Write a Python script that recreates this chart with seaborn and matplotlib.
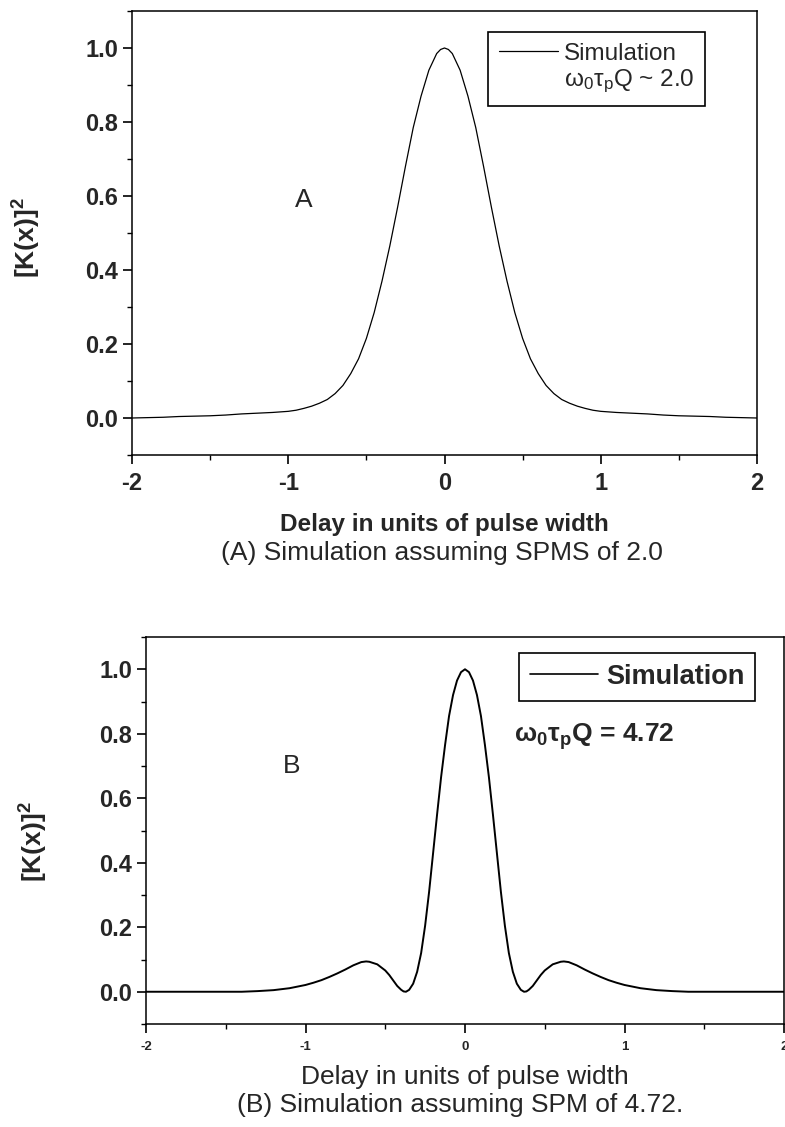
import matplotlib
matplotlib.use("Agg")
import matplotlib.pyplot as plt
import seaborn as sns
import pandas as pd
from matplotlib.lines import Line2D
from matplotlib.ticker import MultipleLocator

# ---------------- data ----------------
# Panel A: SPMS ~ 2.0
delay_a = [-2.0, -1.9, -1.8, -1.7, -1.6, -1.5, -1.4, -1.3, -1.2, -1.1, -1.0,
           -0.95, -0.9, -0.85, -0.8, -0.75, -0.7, -0.65, -0.6, -0.55, -0.5,
           -0.45, -0.4, -0.35, -0.3, -0.25, -0.2, -0.15, -0.1, -0.05, -0.025, 0.0,
           0.025, 0.05, 0.1, 0.15, 0.2, 0.25, 0.3, 0.35, 0.4, 0.45, 0.5,
           0.55, 0.6, 0.65, 0.7, 0.75, 0.8, 0.85, 0.9, 0.95, 1.0,
           1.1, 1.2, 1.3, 1.4, 1.5, 1.6, 1.7, 1.8, 1.9, 2.0]
k2_a = [0.000, 0.001, 0.002, 0.004, 0.005, 0.006, 0.008, 0.011, 0.013, 0.015, 0.018,
        0.021, 0.026, 0.032, 0.040, 0.050, 0.066, 0.088, 0.120, 0.160, 0.215,
        0.285, 0.370, 0.465, 0.570, 0.680, 0.785, 0.870, 0.940, 0.985, 0.996, 1.000,
        0.996, 0.985, 0.940, 0.870, 0.785, 0.680, 0.570, 0.465, 0.370, 0.285, 0.215,
        0.160, 0.120, 0.088, 0.066, 0.050, 0.040, 0.032, 0.026, 0.021, 0.018,
        0.015, 0.013, 0.011, 0.008, 0.006, 0.005, 0.004, 0.002, 0.001, 0.000]

# Panel B: SPM = 4.72
delay_b = [-2.0, -1.8, -1.6, -1.4, -1.3, -1.2, -1.1, -1.0, -0.95, -0.9, -0.85,
           -0.8, -0.75, -0.7, -0.65, -0.62, -0.6, -0.55, -0.5, -0.475, -0.45, -0.425,
           -0.4, -0.385, -0.37, -0.35, -0.325, -0.3, -0.275, -0.25, -0.225, -0.2,
           -0.175, -0.15, -0.125, -0.1, -0.075, -0.05, -0.025, 0.0,
           0.025, 0.05, 0.075, 0.1, 0.125, 0.15, 0.175, 0.2, 0.225, 0.25,
           0.275, 0.3, 0.325, 0.35, 0.37, 0.385, 0.4, 0.425, 0.45, 0.475,
           0.5, 0.55, 0.6, 0.62, 0.65, 0.7, 0.75, 0.8, 0.85,
           0.9, 0.95, 1.0, 1.1, 1.2, 1.3, 1.4, 1.6, 1.8, 2.0]
k2_b = [0.000, 0.000, 0.000, 0.000, 0.002, 0.005, 0.011, 0.021, 0.028, 0.036, 0.046,
        0.057, 0.069, 0.082, 0.092, 0.094, 0.093, 0.085, 0.066, 0.052, 0.035, 0.018,
        0.006, 0.001, 0.000, 0.006, 0.025, 0.062, 0.120, 0.205, 0.310, 0.430,
        0.550, 0.665, 0.765, 0.855, 0.920, 0.965, 0.991, 1.000,
        0.991, 0.965, 0.920, 0.855, 0.765, 0.665, 0.550, 0.430, 0.310, 0.205,
        0.120, 0.062, 0.025, 0.006, 0.000, 0.001, 0.006, 0.018, 0.035, 0.052,
        0.066, 0.085, 0.093, 0.094, 0.092, 0.082, 0.069, 0.057, 0.046,
        0.036, 0.028, 0.021, 0.011, 0.005, 0.002, 0.000, 0.000, 0.000, 0.000]

x_ticks = [-2, -1, 0, 1, 2]
y_ticks = [0.0, 0.2, 0.4, 0.6, 0.8, 1.0]

# ---------------- style ----------------
sns.set_style("ticks")
plt.rcParams["font.family"] = ["Liberation Sans", "DejaVu Sans"]
plt.rcParams["mathtext.fontset"] = "custom"
plt.rcParams["mathtext.rm"] = "Liberation Sans"
plt.rcParams["mathtext.it"] = "Liberation Sans:italic"
plt.rcParams["mathtext.bf"] = "Liberation Sans:bold"

W, H = 785, 1127
fig = plt.figure(figsize=(W / 100, H / 100), dpi=100)


def px_axes(l, t, r, b):
    return fig.add_axes([l / W, 1 - b / H, (r - l) / W, (b - t) / H])


ax_a = px_axes(132, 11, 757, 455)
ax_b = px_axes(146, 637, 784, 1024)

df_a = pd.DataFrame({"delay": delay_a, "k2": k2_a})
df_b = pd.DataFrame({"delay": delay_b, "k2": k2_b})

sns.lineplot(data=df_a, x="delay", y="k2", ax=ax_a, color="black",
             linewidth=0.9, sort=False)
sns.lineplot(data=df_b, x="delay", y="k2", ax=ax_b, color="black",
             linewidth=1.4, sort=False)

for ax in (ax_a, ax_b):
    ax.set_xlim(-2, 2)
    ax.set_ylim(-0.1, 1.1)
    ax.set_xticks(x_ticks)
    ax.set_yticks(y_ticks)
    ax.xaxis.set_minor_locator(MultipleLocator(0.5))
    ax.yaxis.set_minor_locator(MultipleLocator(0.1))
    ax.tick_params(which="major", direction="out", length=6.5, width=1.2,
                   color="black")
    ax.tick_params(which="minor", direction="out", length=3.5, width=1.0,
                   color="black")
    for s in ax.spines.values():
        s.set_visible(True)
        s.set_color("black")
        s.set_linewidth(1.1)
    ax.set_ylabel(r"[K(x)]$^\mathbf{2}$", fontsize=19, fontweight="bold")

# tick labels
ax_a.set_xticklabels([str(v) for v in x_ticks], fontsize=17, fontweight="bold")
ax_a.set_yticklabels([f"{v:.1f}" for v in y_ticks], fontsize=17, fontweight="bold")
ax_b.set_xticklabels([str(v) for v in x_ticks], fontsize=9.5, fontweight="bold")
ax_b.set_yticklabels([f"{v:.1f}" for v in y_ticks], fontsize=17, fontweight="bold")
ax_a.tick_params(axis="x", pad=6)
ax_b.tick_params(axis="x", pad=6)

ax_a.yaxis.set_label_coords((43 - 132) / 625, 0.49)
ax_b.yaxis.set_label_coords((50 - 146) / 638, 0.47)

# x labels
ax_a.set_xlabel("Delay in units of pulse width", fontsize=17.5,
                fontweight="bold", va="center")
ax_a.xaxis.set_label_coords(0.5, (455 - 524) / 444)
ax_b.set_xlabel("Delay in units of pulse width", fontsize=19, va="center")
ax_b.xaxis.set_label_coords(0.5, (1024 - 1077) / 387)

# captions
fig.text(442 / W, 1 - 553 / H, "(A) Simulation assuming SPMS of 2.0",
         fontsize=19, ha="center", va="center")
fig.text(460 / W, 1 - 1105 / H, "(B) Simulation assuming SPM of 4.72.",
         fontsize=19, ha="center", va="center")

# panel letters
ax_a.text(-0.90, 0.59, "A", fontsize=19, ha="center", va="center")
ax_b.text(-1.09, 0.70, "B", fontsize=19, ha="center", va="center")

# legends
h_line = Line2D([], [], color="black", linewidth=0.9)
h_none = Line2D([], [], color="none")
leg_a = ax_a.legend([h_line, h_none],
                    ["Simulation", r"$\mathregular{ω_0τ_p}$Q ~ 2.0"],
                    loc="upper right", bbox_to_anchor=(0.917, 0.953),
                    borderaxespad=0, fancybox=False, framealpha=1,
                    edgecolor="black", fontsize=17.5, handlelength=2.4,
                    handletextpad=0.25, labelspacing=0.12, borderpad=0.45)
leg_a.get_frame().set_linewidth(1.2)

h_line_b = Line2D([], [], color="black", linewidth=1.2)
leg_b = ax_b.legend([h_line_b], ["Simulation"],
                    loc="upper right", bbox_to_anchor=(0.9545, 0.9587),
                    borderaxespad=0, fancybox=False, framealpha=1,
                    edgecolor="black", handlelength=2.5,
                    handletextpad=0.3, borderpad=0.4,
                    prop={"weight": "bold", "size": 19.5})
leg_b.get_frame().set_linewidth(1.2)

ax_b.text(0.306, 0.79, r"$\mathbf{ω_0τ_p}$Q = 4.72", fontsize=19,
          fontweight="bold", ha="left", va="center")

fig.savefig("out.png", dpi=100)
